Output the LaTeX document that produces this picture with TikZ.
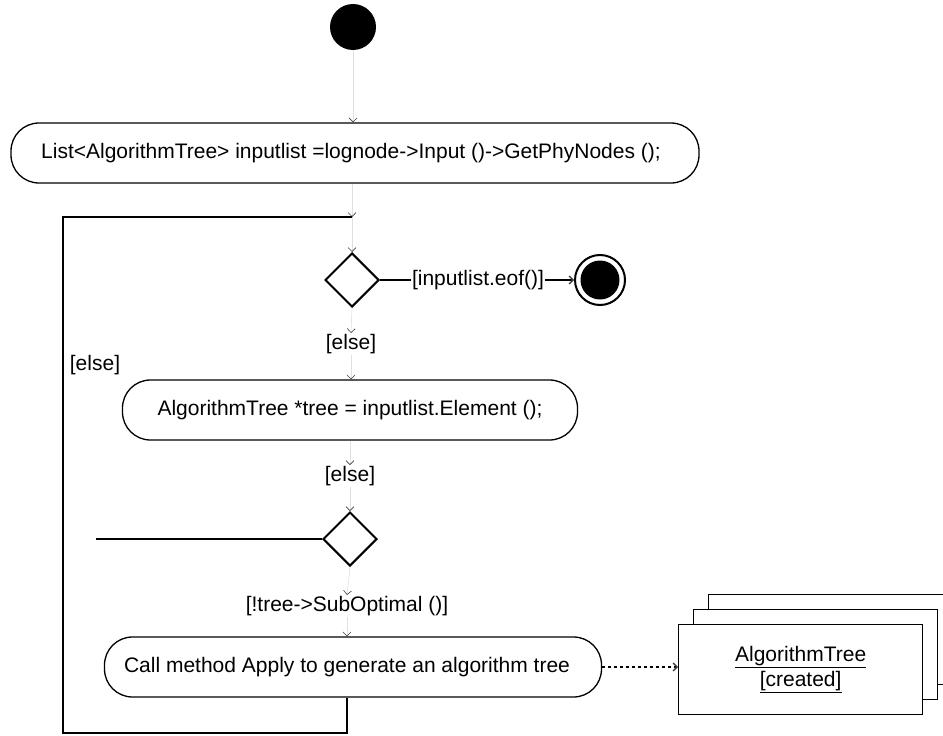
\documentclass[tikz,border=0pt]{standalone}
\usepackage{fontspec}
\setmainfont{Liberation Sans}
\usetikzlibrary{arrows.meta,shapes.geometric}
\begin{document}
\begin{tikzpicture}[x=1pt,y=-1pt,
  every node/.style={font=\fontsize{21}{25}\selectfont},
  action/.style={draw, line width=1.3pt, rounded corners=28pt, minimum height=60pt, inner sep=0pt},
  decision/.style={draw, line width=2pt, diamond, minimum width=54pt, minimum height=54pt, inner sep=0pt},
  tip/.style={-{Straight Barb[length=4pt,width=8pt,color=black!75]}},
  flow/.style={draw=black!12, line width=0.6pt, tip},
  edge/.style={draw, line width=1.3pt},
  guard/.style={inner sep=1pt},
  objbox/.style={draw, line width=1.3pt, fill=white, minimum width=244pt, minimum height=90pt, inner sep=0pt}]
\useasboundingbox (0,0) rectangle (943,736);

% initial node
\node[circle, fill=black, minimum size=46pt, inner sep=0pt] (start) at (353,27) {};

% actions
\node[action, minimum width=688pt] (init) at (355,153)
  {\hspace*{-8pt}List<AlgorithmTree> inputlist =lognode->Input ()->GetPhyNodes ();};
\node[action, minimum width=455pt] (elem) at (350,410)
  {AlgorithmTree *tree = inputlist.Element ();};
\node[action, minimum width=497pt] (apply) at (353,667)
  {\hspace*{-12pt}Call method Apply to generate an algorithm tree};

% decisions
\node[decision] (d1) at (352,280) {};
\node[decision] (d2) at (350,539) {};

% final node
\node[circle, draw, line width=2pt, minimum size=50pt, inner sep=0pt] (final) at (600,280) {};
\node[circle, fill=black, minimum size=39pt, inner sep=0pt] at (final) {};

% object flow target: stacked objects
\node[objbox, anchor=north west] (obj3) at (708,594) {};
\node[objbox, anchor=north west] (obj2) at (693,609) {};
\node[objbox, anchor=north west, align=center] (obj) at (678,624)
  {\underline{AlgorithmTree}\\[0pt]\underline{[created]}};

% guard labels
\node[guard] (g1) at (478,280) {[inputlist.eof()]};
\node[guard] (g2) at (351,344) {[else]};
\node[guard] (g3) at (350,476) {[else]};
\node[guard] (g4) at (347,606) {[!tree->SubOptimal ()]};
\node[guard] (g5) at (95,365) {[else]};

% loop corners
\coordinate (lt) at (63,217);
\coordinate (jt) at (352,217);
\coordinate (lb) at (63,733);
\coordinate (jb) at (347,733);
\coordinate (open) at (96,539);

% control flow
\path[flow] (start) -- (init.north -| start);
\path[flow] (jt) -- (d1.north);
\path[flow] (d1.south) -- (g2.north);
\path[flow] (g2.south) -- (elem.north -| g2);
\path[flow] (elem.south -| g3) -- (g3.north);
\path[flow] (g3.south) -- (d2.north);
\path[flow] (d2.south) -- (g4.north);
\path[flow] (g4.south) -- (apply.north -| g4);
\path[flow] (init.south -| jt) -- (jt);

\draw[edge] (d1.east) -- (g1.west);
\draw[edge, tip] (g1.east) -- (final.west);
\draw[edge] (d2.west) -- (open);
\draw[edge] (apply.south -| jb) -- (jb) -- (lb) -- (lt) -- (jt);

% object flow
\draw[line width=1.3pt, dashed, tip] (apply.east) -- (obj.west |- apply.east);
\end{tikzpicture}
\end{document}
